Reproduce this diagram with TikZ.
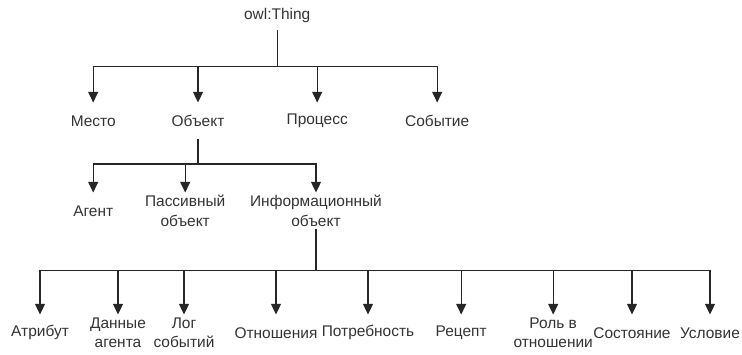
\documentclass[tikz,border=0pt]{standalone}
\usepackage{fontspec}
\setmainfont{Liberation Sans}
\usetikzlibrary{arrows.meta}

\tikzset{
	cls/.style={text=black!80, font=\fontsize{11}{14}\selectfont, align=center,
		inner xsep=1pt, inner ysep=0.5pt, minimum height=0.9cm},
	branch/.style={line width=0.85pt, draw=black!85},
	isa/.style={branch, -{Triangle[width=7pt,length=7.5pt]}}
}

\begin{document}
\begin{tikzpicture}
	\useasboundingbox (0,0) rectangle (18.55,8.85);
	
	%root
	\node[cls, minimum height=0.7cm] (thing) at (6.93,8.45) {owl:Thing};
	
	%first level
	\node[cls] (mesto) 		at (2.33,5.83) 	{Место};
	\node[cls] (obj) 		at (4.95,5.83) 	{Объект};
	\node[cls] (process) 	at (7.93,5.83) 	{Процесс};
	\node[cls] (event) 		at (10.93,5.83) {Событие};
	
	%objects
	\node[cls] (agent) 		at (2.33,3.58) 	{Агент};
	\node[cls] (passive) 	at (4.63,3.58) 	{Пассивный\\объект};
	\node[cls] (info) 		at (7.9,3.58) 	{Информационный\\объект};
	
	%information objects
	\node[cls] (attr) 		at (1.0,0.53) 	{Атрибут};
	\node[cls] (agentdata) 	at (2.95,0.53) 	{Данные\\агента};
	\node[cls] (eventlog) 	at (4.6,0.53) 	{Лог\\событий};
	\node[cls] (relation) 	at (6.9,0.53) 	{Отношения};
	\node[cls] (need) 		at (9.2,0.53) 	{Потребность};
	\node[cls] (recipe) 	at (11.53,0.53) {Рецепт};
	\node[cls] (role) 		at (13.83,0.53) {Роль в\\отношении};
	\node[cls] (state) 		at (15.8,0.53) 	{Состояние};
	\node[cls] (cond) 		at (17.75,0.53) {Условие};
	
	%forks
	\coordinate (thingfork) at (6.93,7.18);
	\coordinate (objfork) 	at (4.95,4.75);
	\coordinate (infofork) 	at (7.9,2.08);
	
	%arrows
	\draw[branch] (thing) -- (thingfork);
	\foreach \c in {mesto,obj,process,event}
		\draw[isa] (thingfork) -| (\c);
	
	\draw[branch] (obj) -- (objfork);
	\foreach \c in {agent,passive,info}
		\draw[isa] (objfork) -| (\c);
	
	\draw[branch] (info) -- (infofork);
	\foreach \c in {attr,agentdata,eventlog,relation,need,recipe,role,state,cond}
		\draw[isa] (infofork) -| (\c);
\end{tikzpicture}
\end{document}
